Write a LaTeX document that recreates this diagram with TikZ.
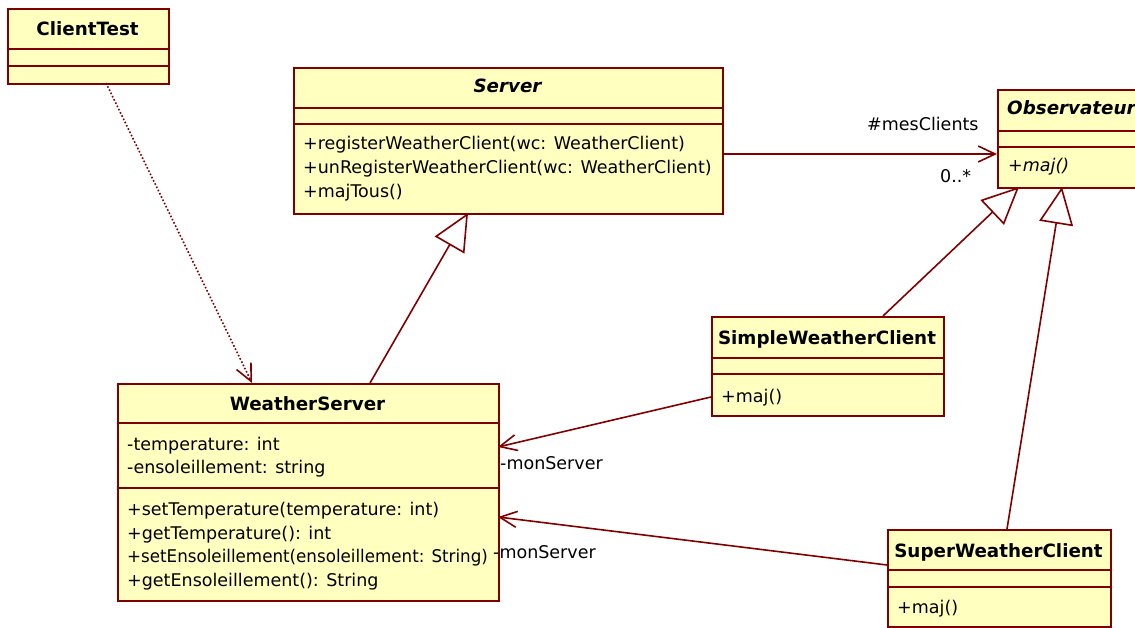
\documentclass[tikz,border=0pt]{standalone}
\usepackage{fontspec}
\setmainfont{DejaVu Sans}
\usetikzlibrary{arrows.meta}
\definecolor{umlline}{RGB}{128,0,0}
\definecolor{umlfill}{RGB}{255,255,192}
\begin{document}
\begin{tikzpicture}[x=1pt,y=-1pt,
  classbox/.style={draw=umlline, fill=umlfill, line width=1.6pt, rectangle, inner sep=0pt, anchor=north west},
  sepline/.style={draw=umlline, line width=1.6pt},
  ctitle/.style={anchor=base, inner sep=0pt, text=black, font=\fontsize{18.3}{22}\selectfont\bfseries},
  member/.style={anchor=base west, inner sep=0pt, text=black, font=\fontsize{17.5}{21}\selectfont},
  assoc/.style={draw=umlline, line width=1.6pt, -{Straight Barb[length=17pt,width=16pt]}},
  gen/.style={draw=umlline, line width=1.6pt, -{Triangle[fill=white, length=37pt, width=34pt]}},
  depend/.style={draw=umlline, line width=1.6pt, dotted, -{Straight Barb[length=17pt,width=16pt,line width=1.6pt]}},
]
\fill[white] (0,0) rectangle (1135,628);
\useasboundingbox (0,0) rectangle (1135,628);

% ClientTest
\node[classbox, minimum width=161pt, minimum height=75pt] (ct) at (7,8) {};
\draw[sepline] (7,49) -- (168,49);
\draw[sepline] (7,66) -- (168,66);
\node[ctitle] (ctT) at (87.5,36) {ClientTest};

% Server
\node[classbox, minimum width=429pt, minimum height=146pt] (sv) at (293,67) {};
\draw[sepline] (293,108) -- (722,108);
\draw[sepline] (293,124) -- (722,124);
\node[ctitle] (svT) at (507.5,93) {\itshape Server};
\node[member] (sv1) at (303,150) {+registerWeatherClient(wc: WeatherClient)};
\node[member] (sv2) at (303,174) {+unRegisterWeatherClient(wc: WeatherClient)};
\node[member] (sv3) at (303,198) {+majTous()};

% Observateur
\node[classbox, minimum width=160pt, minimum height=98pt] (ob) at (997,89) {};
\draw[sepline] (997,131) -- (1157,131);
\draw[sepline] (997,147) -- (1157,147);
\node[ctitle, anchor=base west] (obT) at (1007,115) {\itshape Observateur};
\node[member] (ob1) at (1008,172) {\itshape +maj()};

% WeatherServer
\node[classbox, minimum width=381pt, minimum height=217pt] (ws) at (117,383) {};
\draw[sepline] (117,423) -- (498,423);
\draw[sepline] (117,488) -- (498,488);
\node[ctitle] (wsT) at (307.5,410) {WeatherServer};
\node[member] (ws1) at (127,450) {-temperature: int};
\node[member] (ws2) at (127,473) {-ensoleillement: string};
\node[member] (ws3) at (127,515) {+setTemperature(temperature: int)};
\node[member] (ws4) at (127,539) {+getTemperature(): int};
\node[member] (ws5) at (127,562) {\scalebox{0.955}[1]{+setEnsoleillement(ensoleillement: String)}};
\node[member] (ws6) at (127,586) {+getEnsoleillement(): String};

% SimpleWeatherClient
\node[classbox, minimum width=232pt, minimum height=99pt] (sw) at (711,316) {};
\draw[sepline] (711,358) -- (943,358);
\draw[sepline] (711,374) -- (943,374);
\node[ctitle] (swT) at (827,344) {SimpleWeatherClient};
\node[member] (sw1) at (721,402) {+maj()};

% SuperWeatherClient
\node[classbox, minimum width=223pt, minimum height=97pt] (su) at (887,529) {};
\draw[sepline] (887,570) -- (1110,570);
\draw[sepline] (887,587) -- (1110,587);
\node[ctitle] (suT) at (998.5,557) {SuperWeatherClient};
\node[member] (su1) at (897,613) {+maj()};

% connector end points
\coordinate (ct-d) at (106,83);
\coordinate (ws-d) at (252,383);
\coordinate (ws-g) at (370,383);
\coordinate (sv-g) at (468,213);
\coordinate (sw-g) at (883,316);
\coordinate (ob-g1) at (1019,187);
\coordinate (su-g) at (1007,529);
\coordinate (ob-g2) at (1062,187);
\coordinate (sv-a) at (722,154);
\coordinate (ob-a) at (997,154);
\coordinate (sw-a) at (711,397);
\coordinate (ws-a1) at (498,447);
\coordinate (su-a) at (887,565);
\coordinate (ws-a2) at (498,517);

% connectors
\draw[depend] (ct-d) -- (ws-d);
\draw[gen] (ws-g) -- (sv-g);
\draw[gen] (sw-g) -- (ob-g1);
\draw[gen] (su-g) -- (ob-g2);
\draw[assoc] (sv-a) -- (ob-a);
\draw[assoc] (sw-a) -- (ws-a1);
\draw[assoc] (su-a) -- (ws-a2);

% labels
\node[member] (l1) at (867,131) {\#mesClients};
\node[member] (l2) at (940,183) {0..*};
\node[member] (l3) at (500,469) {-monServer};
\node[member] (l4) at (493,558) {-monServer};
\end{tikzpicture}
\end{document}
